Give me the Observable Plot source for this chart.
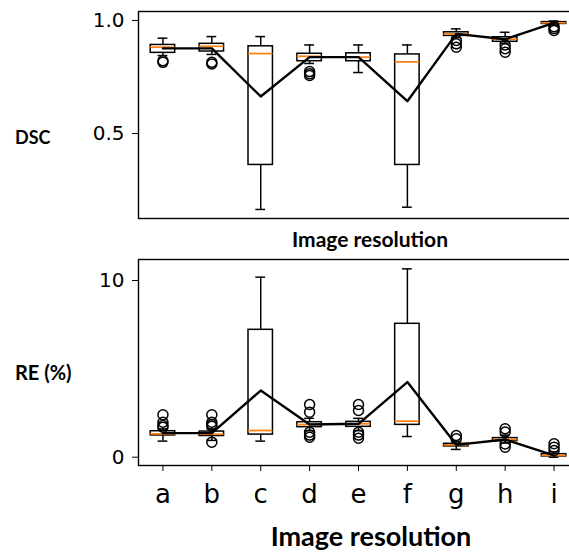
<!DOCTYPE html>
<html><head><meta charset="utf-8">
<script src="https://cdn.jsdelivr.net/npm/d3@7"></script>
<script src="https://cdn.jsdelivr.net/npm/@observablehq/plot@0.6"></script>
<style>
html,body{margin:0;padding:0;background:#fff;overflow:hidden;width:569px;height:553px;}
#wrap{position:relative;width:569px;height:553px;overflow:hidden;background:#fff;}
.panel{position:absolute;left:0;width:580px;}
.panel svg{max-width:none !important;}
.lbl{position:absolute;font-family:Lato,"Open Sans",sans-serif;font-weight:bold;color:#000;white-space:nowrap;line-height:1;}
.bot g[aria-label^="x-axis"] text{font-size:26px;}
</style></head><body><div id="wrap"></div>
<script>
const categories = ["a","b","c","d","e","f","g","h","i"];

// DSC panel (top)
const dscWhiskerLow  = [0.845, 0.850, 0.164, 0.810, 0.770, 0.174, 0.925, 0.900, 0.980];
const dscQ1          = [0.857, 0.863, 0.361, 0.820, 0.820, 0.361, 0.932, 0.906, 0.985];
const dscMedian      = [0.882, 0.886, 0.854, 0.842, 0.838, 0.817, 0.941, 0.917, 0.990];
const dscQ3          = [0.892, 0.897, 0.886, 0.853, 0.855, 0.850, 0.948, 0.926, 0.993];
const dscWhiskerHigh = [0.922, 0.929, 0.929, 0.892, 0.892, 0.892, 0.963, 0.948, 0.998];
const dscMean        = [0.877, 0.877, 0.664, 0.838, 0.838, 0.643, 0.941, 0.917, 0.990];
const dscOutliers    = [[0.815, 0.822], [0.808, 0.815], [], [0.774, 0.765, 0.757], [], [], [0.912, 0.897, 0.882], [0.892, 0.875, 0.860], [0.973, 0.965, 0.956]];

// RE (%) panel (bottom)
const reWhiskerLow  = [0.91, 0.95, 0.91, 1.50, 1.50, 1.17, 0.44, 0.80, 0.00];
const reQ1          = [1.23, 1.20, 1.28, 1.70, 1.72, 1.83, 0.61, 0.91, 0.04];
const reMedian      = [1.32, 1.30, 1.51, 1.85, 1.89, 2.04, 0.70, 1.00, 0.10];
const reQ3          = [1.47, 1.45, 7.21, 1.98, 2.00, 7.55, 0.76, 1.08, 0.17];
const reWhiskerHigh = [1.60, 1.60, 10.19, 2.20, 2.20, 10.66, 0.90, 1.25, 0.30];
const reMean        = [1.36, 1.36, 3.77, 1.85, 1.89, 4.25, 0.70, 1.00, 0.10];
const reOutliers    = [[2.40, 1.98, 1.79, 1.70], [2.40, 1.98, 1.85, 1.75, 0.85], [], [2.98, 2.55, 1.41, 1.13, 1.25], [2.98, 2.64, 1.41, 1.07, 1.25], [], [1.23, 1.04], [1.61, 1.42, 0.57, 0.75], [0.76, 0.57, 0.38]];

const dscTicks = [0.5, 1.0];
const reTicks = [0, 10];

function boxMarks(wl, q1, med, q3, wh, mean, outl) {
  const idx = categories.map((_, i) => i);
  const pts = outl.flatMap((arr, i) => arr.map(v => ({i, v})));
  const sw = 1.5;
  return [
    Plot.ruleX(idx, {x: i => i + 1, y1: i => wl[i], y2: i => q1[i], stroke: "black", strokeWidth: sw}),
    Plot.ruleX(idx, {x: i => i + 1, y1: i => q3[i], y2: i => wh[i], stroke: "black", strokeWidth: sw}),
    Plot.ruleY(idx, {y: i => wl[i], x1: i => i + 0.9, x2: i => i + 1.1, stroke: "black", strokeWidth: sw}),
    Plot.ruleY(idx, {y: i => wh[i], x1: i => i + 0.9, x2: i => i + 1.1, stroke: "black", strokeWidth: sw}),
    Plot.rect(idx, {x1: i => i + 0.75, x2: i => i + 1.25, y1: i => q1[i], y2: i => q3[i], fill: "none", stroke: "black", strokeWidth: sw}),
    Plot.ruleY(idx, {y: i => med[i], x1: i => i + 0.75, x2: i => i + 1.25, stroke: "#ff7f0e", strokeWidth: 1.7}),
    Plot.dot(pts, {x: d => d.i + 1, y: d => d.v, r: 5, stroke: "black", fill: "none", strokeWidth: 1.5}),
    Plot.line(idx, {x: i => i + 1, y: i => mean[i], stroke: "black", strokeWidth: 2.4}),
    Plot.frame({stroke: "black", strokeWidth: 1.4})
  ];
}

const wrap = document.getElementById("wrap");

const topPlot = Plot.plot({
  width: 580, height: 222,
  marginLeft: 138, marginRight: 2, marginTop: 11, marginBottom: 4,
  style: {fontFamily: "DejaVu Sans", fontSize: "20px", background: "white", color: "black", overflow: "visible", maxWidth: "none"},
  x: {domain: [0.5, 9.5], axis: null},
  y: {domain: [0.124, 1.04], ticks: dscTicks, tickFormat: d3.format(".1f"), tickSize: 6, tickPadding: 8, label: null},
  marks: boxMarks(dscWhiskerLow, dscQ1, dscMedian, dscQ3, dscWhiskerHigh, dscMean, dscOutliers)
});
const topDiv = document.createElement("div");
topDiv.className = "panel"; topDiv.style.top = "0px";
topDiv.appendChild(topPlot); wrap.appendChild(topDiv);

const botPlot = Plot.plot({
  width: 580, height: 313,
  marginLeft: 138, marginRight: 2, marginTop: 19, marginBottom: 88,
  style: {fontFamily: "DejaVu Sans", fontSize: "20px", background: "white", color: "black", overflow: "visible", maxWidth: "none"},
  x: {domain: [0.5, 9.5], ticks: categories.map((_, i) => i + 1), tickFormat: d => categories[d - 1], tickSize: 6, tickPadding: 13, label: null},
  y: {domain: [-0.47, 11.19], ticks: reTicks, tickFormat: d3.format("d"), tickSize: 6, tickPadding: 8, label: null},
  marks: boxMarks(reWhiskerLow, reQ1, reMedian, reQ3, reWhiskerHigh, reMean, reOutliers)
});
const botDiv = document.createElement("div");
botDiv.className = "panel bot"; botDiv.style.top = "240px";
botDiv.appendChild(botPlot); wrap.appendChild(botDiv);

function label(text, x, y, size, center) {
  const d = document.createElement("div");
  d.className = "lbl";
  d.textContent = text;
  d.style.left = x + "px";
  d.style.top = y + "px";
  d.style.fontSize = size + "px";
  d.style.transform = center ? "translate(-50%,-50%)" : "translate(0,-50%)";
  wrap.appendChild(d);
}
label("DSC", 15, 137, 18, false);
label("RE (%)", 15, 372, 20, false);
label("Image resolution", 370, 238, 21, true);
label("Image resolution", 371, 535, 27, true);
</script>
</body></html>
